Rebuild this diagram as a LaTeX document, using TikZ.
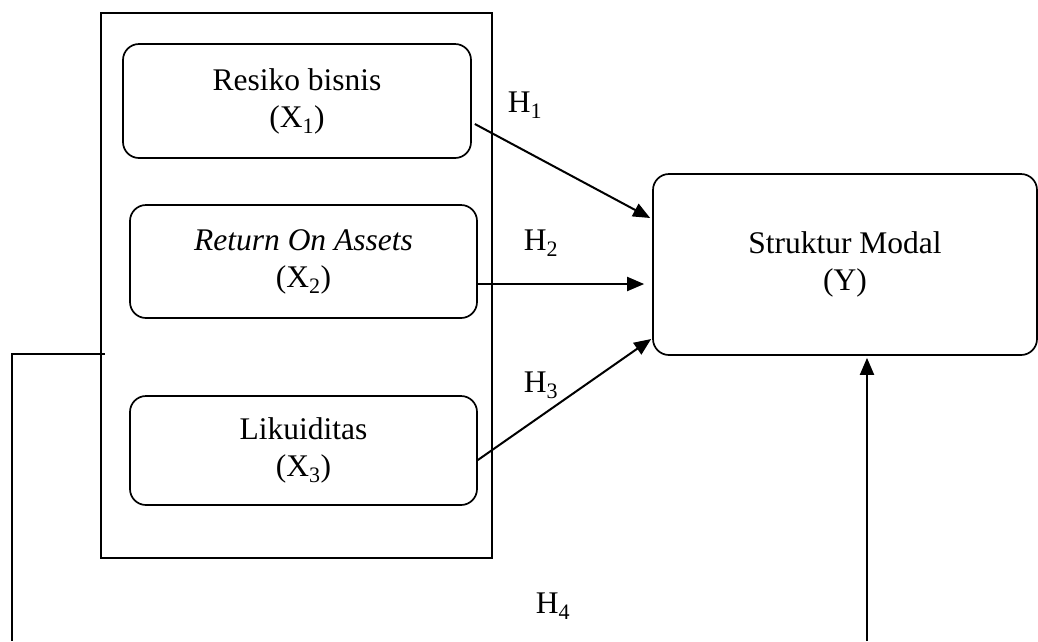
\documentclass[tikz,border=0pt]{standalone}
\usepackage{fontspec}
\setmainfont{Liberation Serif}
\usetikzlibrary{arrows.meta}

\begin{document}
\begin{tikzpicture}[x=1pt, y=-1pt,
        kotak/.style = {draw, line width=1.7pt, rounded corners=16pt, align=center, inner sep=0pt, font=\fontsize{31.5}{37}\selectfont},
        panah/.style = {line width=2pt, -{Triangle[length=17pt, width=14pt]}},
        lbl/.style = {font=\fontsize{31.5}{37}\selectfont}]
            \useasboundingbox (0,0) rectangle (1038,641);
            % Kerangka variabel bebas
            \node[draw, line width=1.7pt, minimum width=391pt, minimum height=545pt, inner sep=0pt] (frame) at (296.5,285.5) {};
            \node[kotak, minimum width=348pt, minimum height=114pt] (x1) at (297,101) {Resiko bisnis\\(X\textsubscript{1})};
            \node[kotak, minimum width=347pt, minimum height=113pt] (x2) at (303.5,261.5) {\textit{Return On Assets}\\(X\textsubscript{2})};
            \node[kotak, minimum width=347pt, minimum height=109pt] (x3) at (303.5,450.5) {Likuiditas\\(X\textsubscript{3})};
            % Variabel terikat
            \node[kotak, minimum width=384pt, minimum height=181pt] (y) at (845,264.5) {Struktur Modal\\(Y)};
            % Panah hipotesis
            \draw[panah] ([xshift=3pt, yshift=-23pt]x1.east) -- ([xshift=-2pt, yshift=46.5pt]y.west);
            \draw[panah] ([yshift=-22.5pt]x2.east) -- ([xshift=-8pt, yshift=-19.5pt]y.west);
            \draw[panah] ([yshift=-9.5pt]x3.east) -- ([xshift=-1pt, yshift=-74.5pt]y.west);
            \coordinate (lbot) at (12,641);
            \coordinate (ybot) at (867,641);
            \draw[line width=1.4pt] ([xshift=5pt, yshift=-68.5pt]frame.west) -| (lbot);
            \draw[panah] (ybot) -- ([yshift=-2pt]ybot |- y.south);
            \node[lbl] (h1) at (525,105) {H\textsubscript{1}};
            \node[lbl] (h2) at (541,243) {H\textsubscript{2}};
            \node[lbl] (h3) at (541,385) {H\textsubscript{3}};
            \node[lbl] (h4) at (553,606) {H\textsubscript{4}};
       \end{tikzpicture}
\end{document}
